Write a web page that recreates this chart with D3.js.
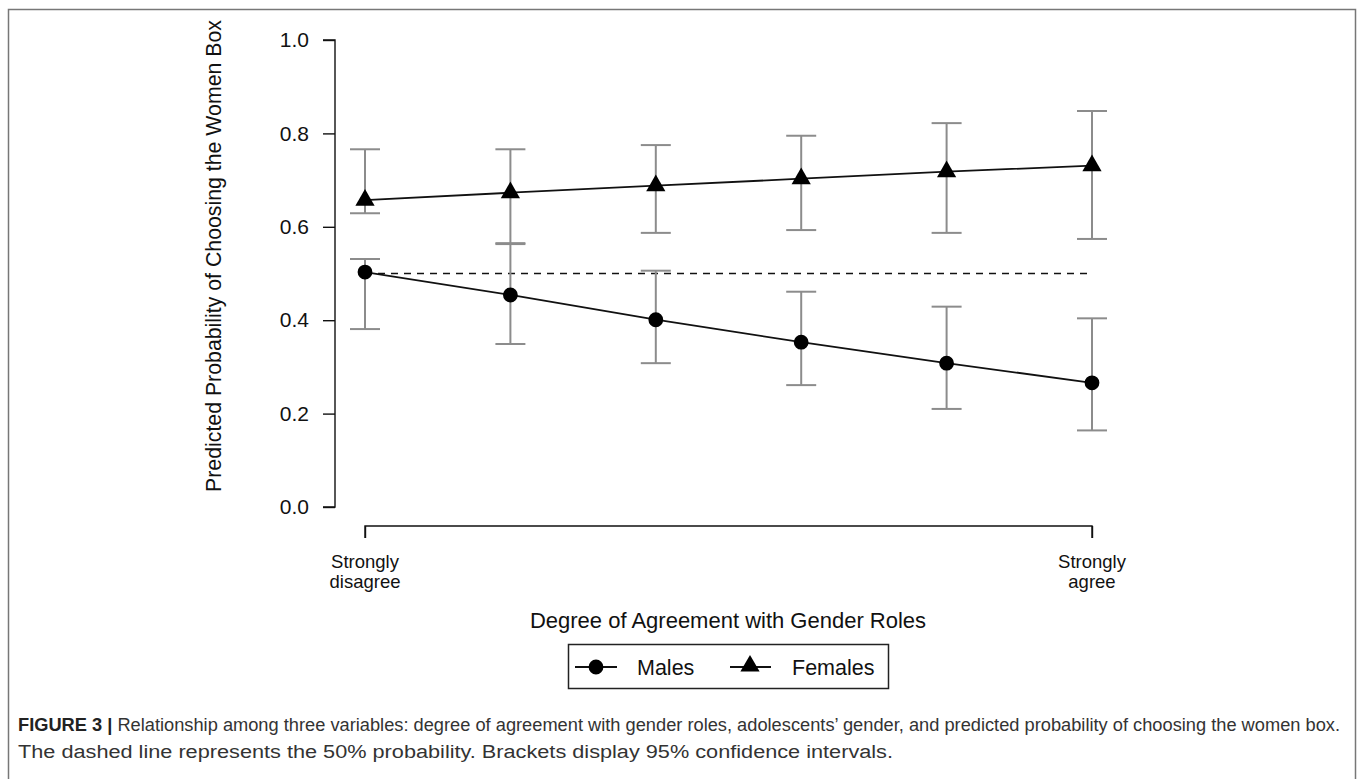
<!DOCTYPE html>
<html><head><meta charset="utf-8">
<script src="https://cdn.jsdelivr.net/npm/d3@7"></script>
<style>body{margin:0;background:#fff}svg{display:block}</style>
</head><body>
<script>
const levels = [1,2,3,4,5,6];
const xTickLabels = [["Strongly","disagree"],["Strongly","agree"]];
const yTicks = [0.0,0.2,0.4,0.6,0.8,1.0];
const malesMean = [0.503,0.454,0.401,0.353,0.308,0.266];
const malesLow  = [0.381,0.349,0.308,0.261,0.210,0.164];
const malesHigh = [0.531,0.563,0.506,0.461,0.429,0.404];
const femalesMean = [0.657,0.673,0.688,0.703,0.718,0.731];
const femalesLow  = [0.629,0.565,0.587,0.593,0.587,0.574];
const femalesHigh = [0.766,0.766,0.775,0.795,0.822,0.848];
const refLine = 0.5;
const legendLabels = ["Males","Females"];

const W=1357,H=779;
const svg=d3.select("body").append("svg").attr("width",W).attr("height",H);
const font="'Liberation Sans', Arial, Helvetica, sans-serif";

// outer frame
svg.append("path").attr("d",`M8.5,${H+2}V9.5H1355.5V${H+2}`).attr("fill","none").attr("stroke","#777").attr("stroke-width",1.5);

const x=d3.scaleLinear().domain([1,6]).range([365,1092]);
const y=d3.scaleLinear().domain([0,1]).range([507,40]);

// y axis
const yAxis=svg.append("g").attr("transform","translate(335,0)")
  .call(d3.axisLeft(y).tickValues(yTicks).tickFormat(d3.format(".1f")).tickSize(12).tickPadding(14));
yAxis.select(".domain").attr("d",`M-12,${y(1)}H0V${y(0)}H-12`).attr("stroke","#111").attr("stroke-width",1.4);
yAxis.selectAll(".tick line").attr("stroke","#111").attr("stroke-width",1.4);
yAxis.selectAll(".tick text").attr("font-family",font).attr("font-size",21).attr("fill","#111");

// x axis
const xAxis=svg.append("g").attr("transform","translate(0,526)")
  .call(d3.axisBottom(x).tickValues([1,6]).tickFormat("").tickSize(12));
xAxis.select(".domain").attr("d",`M${x(1)},12V0H${x(6)}V12`).attr("stroke","#111").attr("stroke-width",1.4);
xAxis.selectAll(".tick line").attr("stroke","#111").attr("stroke-width",1.4);
[1,6].forEach((v,i)=>{
  svg.append("text").attr("x",x(v)).attr("y",568).attr("text-anchor","middle")
    .attr("font-family",font).attr("font-size",18.5).attr("fill","#111").text(xTickLabels[i][0]);
  svg.append("text").attr("x",x(v)).attr("y",588).attr("text-anchor","middle")
    .attr("font-family",font).attr("font-size",18.5).attr("fill","#111").text(xTickLabels[i][1]);
});

// axis titles
svg.append("text").attr("x",728).attr("y",628).attr("text-anchor","middle")
  .attr("font-family",font).attr("font-size",22).attr("fill","#111").text("Degree of Agreement with Gender Roles");
svg.append("text").attr("transform","translate(221,256) rotate(-90)").attr("text-anchor","middle")
  .attr("font-family",font).attr("font-size",21.3).attr("fill","#111").text("Predicted Probability of Choosing the Women Box");

// reference dashed line
svg.append("line").attr("x1",x(1)).attr("x2",x(6)).attr("y1",y(refLine)).attr("y2",y(refLine))
  .attr("stroke","#111").attr("stroke-width",1.5).attr("stroke-dasharray","7,6");

// error bars
function bars(lo,hi){
  const g=svg.append("g").attr("stroke","#8c8c8c").attr("stroke-width",2);
  levels.forEach((l,i)=>{
    g.append("line").attr("x1",x(l)).attr("x2",x(l)).attr("y1",y(lo[i])).attr("y2",y(hi[i]));
    [lo[i],hi[i]].forEach(v=>g.append("line").attr("x1",x(l)-15).attr("x2",x(l)+15).attr("y1",y(v)).attr("y2",y(v)));
  });
}
bars(malesLow,malesHigh);
bars(femalesLow,femalesHigh);

const line=d3.line().x((d,i)=>x(levels[i])).y(d=>y(d));
svg.append("path").attr("d",line(malesMean)).attr("fill","none").attr("stroke","#111").attr("stroke-width",1.8);
svg.append("path").attr("d",line(femalesMean)).attr("fill","none").attr("stroke","#111").attr("stroke-width",1.8);

const circ=d3.symbol().type(d3.symbolCircle).size(Math.PI*7.4*7.4);
const tri=d3.symbol().type(d3.symbolTriangle).size(160);
svg.selectAll(".m").data(malesMean).join("path").attr("d",circ)
  .attr("transform",(d,i)=>`translate(${x(levels[i])},${y(d)})`).attr("fill","#000");
svg.selectAll(".f").data(femalesMean).join("path").attr("d",tri)
  .attr("transform",(d,i)=>`translate(${x(levels[i])},${y(d)})`).attr("fill","#000");

// legend
const lg=svg.append("g");
lg.append("rect").attr("x",568.5).attr("y",644.5).attr("width",320).attr("height",44)
  .attr("fill","#fff").attr("stroke","#222").attr("stroke-width",1.5);
lg.append("line").attr("x1",575).attr("x2",617).attr("y1",667).attr("y2",667).attr("stroke","#111").attr("stroke-width",1.8);
lg.append("path").attr("d",circ).attr("transform","translate(596,667)");
lg.append("text").attr("x",637).attr("y",675).attr("font-family",font).attr("font-size",21.5).attr("fill","#111").text(legendLabels[0]);
lg.append("line").attr("x1",730).attr("x2",771).attr("y1",667).attr("y2",667).attr("stroke","#111").attr("stroke-width",1.8);
lg.append("path").attr("d",tri).attr("transform","translate(750,666)");
lg.append("text").attr("x",792).attr("y",675).attr("font-family",font).attr("font-size",21.5).attr("fill","#111").text(legendLabels[1]);

// caption
const cf="'Liberation Sans', Arial, sans-serif";
const c1=svg.append("text").attr("x",18).attr("y",731).attr("font-family",cf).attr("font-size",17.5).attr("fill","#333")
  .attr("textLength",1322).attr("lengthAdjust","spacingAndGlyphs");
c1.append("tspan").attr("font-weight","bold").attr("fill","#222").text("FIGURE 3 | ");
c1.append("tspan").text("Relationship among three variables: degree of agreement with gender roles, adolescents\u2019 gender, and predicted probability of choosing the women box.");
svg.append("text").attr("x",18).attr("y",758).attr("font-family",cf).attr("font-size",18).attr("fill","#333")
  .attr("textLength",875).attr("lengthAdjust","spacingAndGlyphs")
  .text("The dashed line represents the 50% probability. Brackets display 95% confidence intervals.");
</script>
</body></html>
